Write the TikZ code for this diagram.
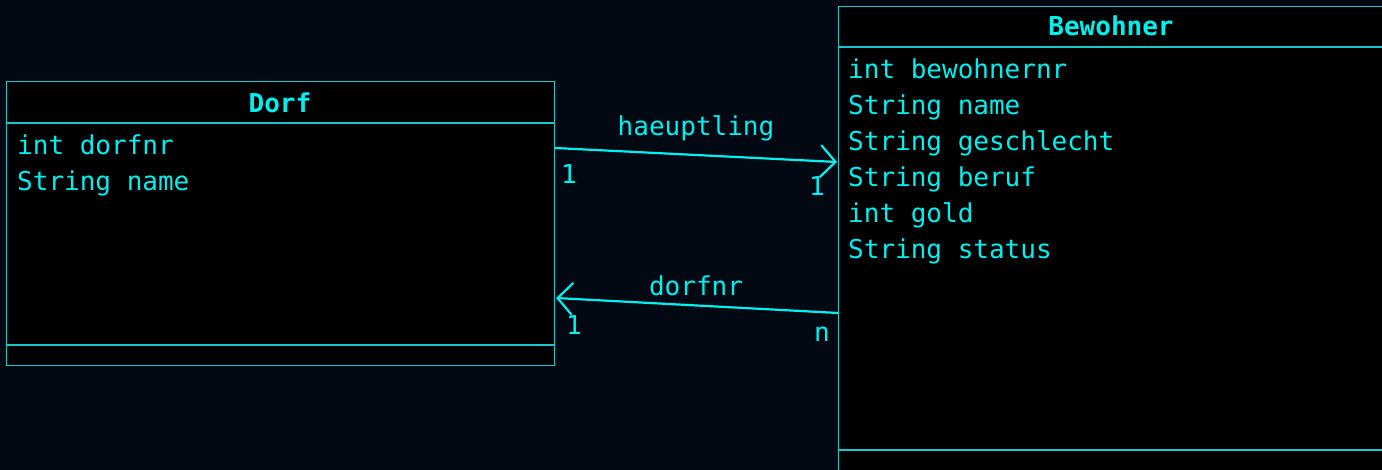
\documentclass[tikz,border=0pt]{standalone}
\usepackage{fontspec}
\setmonofont{DejaVu Sans Mono}
\usetikzlibrary{arrows.meta}
\usetikzlibrary{positioning}

\definecolor{bg}{RGB}{2,9,18}
\definecolor{umlcyan}{RGB}{0,240,240}
\definecolor{umledge}{RGB}{24,200,204}

\tikzset{
	umlbox/.style={draw=umledge, fill=black, line width=1.3pt, inner sep=0pt},
	umlline/.style={draw=umledge, line width=1.3pt},
	umltext/.style={text=umlcyan, font=\ttfamily\fontsize{26}{30}\selectfont, inner sep=0pt, anchor=base west},
	umlhead/.style={umltext, font=\ttfamily\bfseries\fontsize{26}{30}\selectfont, anchor=base},
	umllabel/.style={umltext, anchor=base},
	assoc/.style={draw=umlcyan, line width=2.2pt, -{Straight Barb[length=15pt,width=32pt,line width=2.2pt]}},
}

\begin{document}
\begin{tikzpicture}[x=1pt,y=-1pt]
		\fill[bg] (0,0) rectangle (1382,470);
		\clip (0,0) rectangle (1382,470);

		% Klasse Dorf
		\node[umlbox, anchor=north west, minimum width=548pt, minimum height=284pt] (dorf) at (6,81) {};
		\draw[umlline] (6,123) -- (554,123);
		\draw[umlline] (6,345) -- (554,345);
		\node[umlhead] (dorfhead) at (280,113) {Dorf};
		\foreach \attr [count=\i] in {int dorfnr, String name}
			\node[umltext] (dorfattr\i) at (17,119+36*\i) {\attr};

		% Klasse Bewohner
		\node[umlbox, anchor=north west, minimum width=546pt, minimum height=480pt] (bewohner) at (838,6) {};
		\draw[umlline] (838,47) -- (1390,47);
		\draw[umlline] (838,450) -- (1390,450);
		\node[umlhead] (bewohnerhead) at (1111,36) {Bewohner};
		\foreach \attr [count=\i] in {int bewohnernr, String name, String geschlecht, String beruf, int gold, String status}
			\node[umltext] (bewohnerattr\i) at (848,43+36*\i) {\attr};

		% Beziehungen
		\coordinate (haeuptlingstart) at (555,148);
		\coordinate (haeuptlingend) at (837,162);
		\draw[assoc] (haeuptlingstart) -- (haeuptlingend);
		\node[umllabel] (haeuptling) at (696,136) {haeuptling};
		\node[umllabel] (haeuptlingmulta) at (569,184) {1};
		\node[umllabel] (haeuptlingmultb) at (817,196) {1};

		\coordinate (dorfnrstart) at (838,313);
		\coordinate (dorfnrend) at (556,298);
		\draw[assoc] (dorfnrstart) -- (dorfnrend);
		\node[umllabel] (dorfnr) at (696,296) {dorfnr};
		\node[umllabel] (dorfnrmulta) at (574,335) {1};
		\node[umllabel] (dorfnrmultb) at (822,342) {n};
\end{tikzpicture}
\end{document}
